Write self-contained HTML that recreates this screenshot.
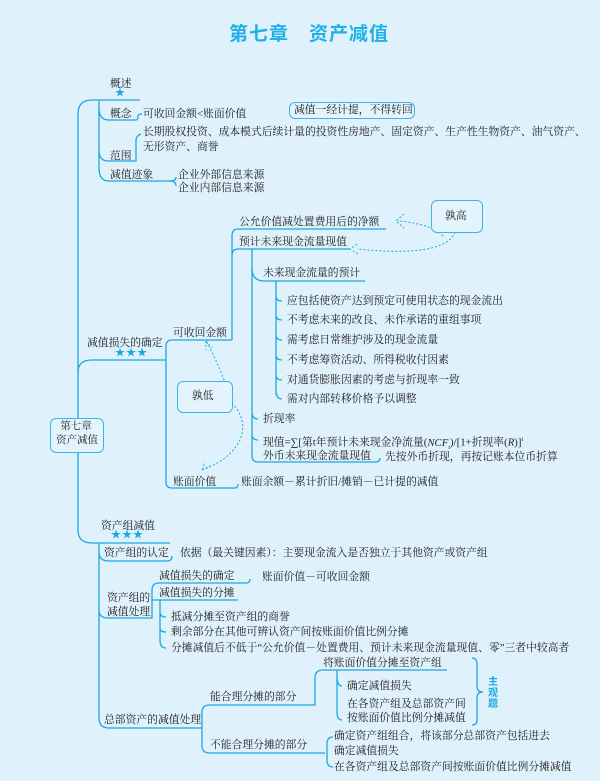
<!DOCTYPE html>
<html><head><meta charset="utf-8"><style>
body{margin:0;width:600px;height:781px;background:#dff2fb;position:relative;overflow:hidden;font-family:"Liberation Serif","Noto Serif CJK SC",serif;color:#222}
.t{position:absolute;font-size:10.8px;line-height:14px;white-space:nowrap}
.b{position:absolute;border:1px solid #3bb4e8;border-radius:6px;background:#e4f4fc}
.s{position:absolute;color:#1aa8e6;font-size:10px;line-height:10px}
svg{position:absolute;left:0;top:0}
</style></head><body>
<svg width="600" height="781" fill="none" stroke="#1ea6e3" stroke-width="1.3">
<!-- trunk -->
<path d="M92 100 H140 M92 100 Q78 100 78 114 V418 M78 452 V530 Q78 543 92 543 H170"/>
<!-- overview -->
<path d="M99 100 V168 Q99 181 109 181 H170 M99 108 Q99 120 109 120 H136 Q138 120 138 116 Q138 114 142 114 M99 150 Q99 161 108 161 H136 V140 Q136 136 141 134 M170 181 Q176 181 176 177 M170 181 Q176 181 176 186"/>
<!-- 减值损失确定 -->
<path d="M78 372 Q78 360 92 360 H166 M166 346 Q166 340 172 340 H232 M166 346 V482 Q166 488 172 488 H235 Q238 488 238 484 M232 340 V236 Q232 229 238 229 H386 M232 256 Q232 249 238 249 H350 M252 249 V456 Q252 462 258 462 H375 Q380 462 380 458 M252 268 Q252 281 264 281 H365 M276 281 V395 M276 296 Q276 301 282 301 M276 315 Q276 320 282 320 M276 335 Q276 340 282 340 M276 355 Q276 360 282 360 M276 375 Q276 380 282 380 M276 390 Q276 399 282 399 M252 412 Q252 419 258 419 M252 434 Q252 440 258 440"/>
<!-- 资产组 -->
<path d="M99 543 V718 Q99 728 109 728 H202 M99 552 Q99 561 109 561 H167 Q172 561 172 556 M99 610 Q99 618 108 618 H152 V590 Q152 583 159 583 H246 Q250 583 250 579 M152 600 H238 M160 600 V640 Q160 648 166 648 M160 612 Q160 617 166 617 M160 628 Q160 632 166 632"/>
<!-- 总部 -->
<path d="M202 728 V712 Q202 705 210 705 H315 V678 Q315 670 323 670 H447 M202 728 V746 Q202 753 210 753 H325 M337 670 V676 Q337 686 342 686 M337 676 V712 Q337 720 342 720 M327 753 V744 Q327 737 333 737 M327 753 V760 Q327 767 333 767"/>
<path d="M472 658 Q477 658 477 664 V686 Q477 692 483 692 Q477 692 477 698 V720 Q477 725 472 725"/>
<!-- dashed -->
<g stroke-dasharray="2,2" stroke-width="1">
<path d="M455 232 Q445 258 357 249"/><path d="M443 236 Q432 224 398 221"/>
<path d="M404 214 L396 221 L404 228 M357 244 L350 249 L358 254"/>
<path d="M232 403 Q248 420 240 440 Q230 460 202 470 M232 403 Q222 370 206 341"/>
<path d="M202 470 L205 462 M202 470 L210 466 M206 341 L206 350 M206 341 L212 348"/>
</g>
</svg>
<div style="position:absolute;left:229px;top:19px;font-size:19px;font-weight:bold;color:#1fb0e8;font-family:'Liberation Sans','Noto Sans CJK SC',sans-serif;letter-spacing:1px">第七章　资产减值</div>
<div class="t" style="left:110px;top:77px">概述</div><div class="s" style="left:115px;top:89px">★</div>
<div class="t" style="left:110px;top:107px">概念</div>
<div class="t" style="left:143px;top:107px">可收回金额&lt;账面价值</div>
<div class="b" style="left:289px;top:102px;width:124px;height:15px"></div>
<div class="t" style="left:294px;top:103px">减值一经计提，不得转回</div>
<div class="t" style="left:143px;top:125px">长期股权投资、成本模式后续计量的投资性房地产、固定资产、生产性生物资产、油气资产、</div>
<div class="t" style="left:143px;top:140px">无形资产、商誉</div>
<div class="t" style="left:110px;top:149px">范围</div>
<div class="t" style="left:110px;top:168px">减值迹象</div>
<div class="t" style="left:178px;top:168px">企业外部信息来源</div>
<div class="t" style="left:178px;top:181px">企业内部信息来源</div>
<div class="b" style="left:431px;top:200px;width:50px;height:31px"></div>
<div class="t" style="left:445px;top:209px">孰高</div>
<div class="t" style="left:239px;top:215px">公允价值减处置费用后的净额</div>
<div class="t" style="left:239px;top:235px">预计未来现金流量现值</div>
<div class="t" style="left:263px;top:266px">未来现金流量的预计</div>
<div class="t" style="left:287px;top:294px">应包括使资产达到预定可使用状态的现金流出</div>
<div class="t" style="left:287px;top:313px">不考虑未来的改良、未作承诺的重组事项</div>
<div class="t" style="left:287px;top:333px">需考虑日常维护涉及的现金流量</div>
<div class="t" style="left:287px;top:353px">不考虑筹资活动、所得税收付因素</div>
<div class="t" style="left:287px;top:373px">对通货膨胀因素的考虑与折现率一致</div>
<div class="t" style="left:287px;top:392px">需对内部转移价格予以调整</div>
<div class="t" style="left:263px;top:412px">折现率</div>
<div class="t" style="left:263px;top:433px">现值=∑[第t年预计未来现金净流量(<i>NCF<sub style="font-size:6px">t</sub></i>)/[1+折现率(<i>R</i>)]<sup style="font-size:6px">t</sup></div>
<div class="t" style="left:263px;top:449px">外币未来现金流量现值</div>
<div class="t" style="left:385px;top:450px">先按外币折现，再按记账本位币折算</div>
<div class="t" style="left:173px;top:326px">可收回金额</div>
<div class="t" style="left:87px;top:336px">减值损失的确定</div><div class="s" style="left:115px;top:349px;letter-spacing:1px">★★★</div>
<div class="b" style="left:177px;top:381px;width:54px;height:30px"></div>
<div class="t" style="left:192px;top:389px">孰低</div>
<div class="b" style="left:50px;top:418px;width:52px;height:33px"></div>
<div class="t" style="left:56px;top:420px;font-size:10.5px;text-align:center;width:40px;line-height:14px">第七章<br>资产减值</div>
<div class="t" style="left:173px;top:475px">账面价值</div>
<div class="t" style="left:241px;top:475px">账面余额－累计折旧/摊销－已计提的减值</div>
<div class="t" style="left:101px;top:519px">资产组减值</div><div class="s" style="left:111px;top:531px;letter-spacing:1px">★★★</div>
<div class="t" style="left:104px;top:546px">资产组的认定</div>
<div class="t" style="left:180px;top:546px">依据（最关键因素）：主要现金流入是否独立于其他资产或资产组</div>
<div class="t" style="left:159px;top:569px">减值损失的确定</div>
<div class="t" style="left:262px;top:570px">账面价值－可收回金额</div>
<div class="t" style="left:159px;top:586px">减值损失的分摊</div>
<div class="t" style="left:107px;top:591px;line-height:14px">资产组的<br>减值处理</div>
<div class="t" style="left:171px;top:610px">抵减分摊至资产组的商誉</div>
<div class="t" style="left:171px;top:625px">剩余部分在其他可辨认资产间按账面价值比例分摊</div>
<div class="t" style="left:171px;top:641px">分摊减值后不低于“公允价值－处置费用、预计未来现金流量现值、零”三者中较高者</div>
<div class="t" style="left:323px;top:656px">将账面价值分摊至资产组</div>
<div class="t" style="left:347px;top:679px">确定减值损失</div>
<div class="t" style="left:347px;top:697px">在各资产组及总部资产间</div>
<div class="t" style="left:347px;top:711px">按账面价值比例分摊减值</div>
<div style="position:absolute;left:488px;top:677px;font-size:10px;line-height:11px;font-weight:bold;color:#1aa8e6;width:11px;font-family:'Liberation Sans','Noto Sans CJK SC',sans-serif">主观题</div>
<div class="t" style="left:210px;top:690px">能合理分摊的部分</div>
<div class="t" style="left:104px;top:713px">总部资产的减值处理</div>
<div class="t" style="left:210px;top:738px">不能合理分摊的部分</div>
<div class="t" style="left:334px;top:729px">确定资产组组合，将该部分总部资产包括进去</div>
<div class="t" style="left:334px;top:744px">确定减值损失</div>
<div class="t" style="left:334px;top:760px">在各资产组及总部资产间按账面价值比例分摊减值</div>
</body></html>
